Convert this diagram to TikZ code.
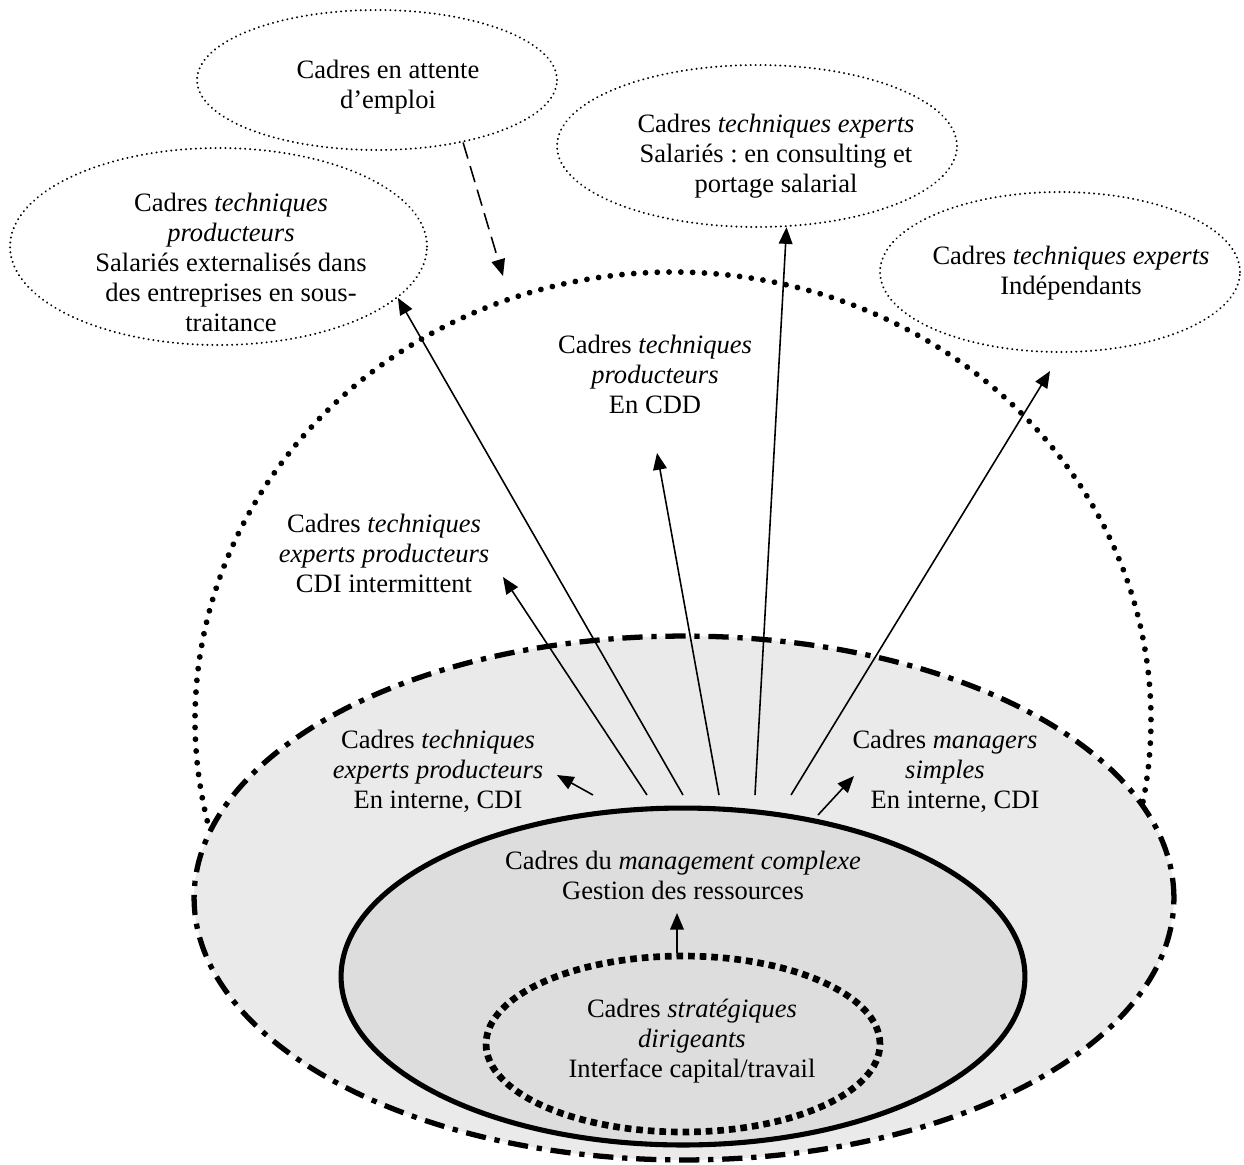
\documentclass[tikz,border=0pt]{standalone}
\usepackage{fontspec}
\setmainfont{Liberation Serif}
\usetikzlibrary{arrows.meta,shapes.geometric}
\definecolor{grayA}{RGB}{234,234,234}
\definecolor{grayB}{RGB}{221,221,221}
\frenchspacing
\begin{document}
\begin{tikzpicture}[x=0.02cm,y=-0.02cm,
  txt/.style={align=center, font=\fontsize{15.1}{17.07}\selectfont\frenchspacing, inner sep=0pt},
  oval/.style={ellipse, inner sep=0pt},
  thindot/.style={draw, line width=1.25pt, dash pattern=on 0.01pt off 2.8pt, line cap=round},
  bigdot/.style={line width=3.3pt, dash pattern=on 0.01pt off 6.7pt, line cap=round},
  dashdotline/.style={draw, line width=3pt, dash pattern=on 11.5pt off 5pt on 3pt off 5pt},
  solidline/.style={draw, line width=2.9pt},
  squaredot/.style={draw, line width=3.8pt, dash pattern=on 3.8pt off 2.8pt},
  arr/.style={line width=0.9pt, -{Triangle[length=9.5pt,width=7.8pt]}},
  dasharr/.style={arr, dash pattern=on 9.5pt off 4.5pt}]
\useasboundingbox (0,0) rectangle (1244,1164);

% large dotted arc (upper part of an ellipse)
\draw[bigdot] plot[domain=167:373, samples=120, smooth] ({673+478*cos(\x)},{720+448*sin(\x)});

% outer thin dotted ellipses
\node[oval, thindot, minimum width=7.2cm, minimum height=2.8cm] (attente) at (377,80) {};
\node[oval, thindot, minimum width=8.34cm, minimum height=3.94cm] (prod) at (218.5,246.5) {};
\node[oval, thindot, minimum width=8cm, minimum height=3.24cm] (cons) at (757,146) {};
\node[oval, thindot, minimum width=7.2cm, minimum height=3.2cm] (indep) at (1060,272) {};

% nested ellipses
\node[oval, dashdotline, fill=grayA, minimum width=19.6cm, minimum height=10.48cm] (grayE) at (684,898) {};
\node[oval, solidline, fill=grayB, minimum width=13.68cm, minimum height=6.74cm] (midE) at (683,976.5) {};
\node[oval, squaredot, minimum width=7.88cm, minimum height=3.52cm] (innerE) at (683,1044) {};

% connector end points
\coordinate (s1) at (593,795); \coordinate (t1) at (557,775);
\coordinate (s2) at (647,795); \coordinate (t2) at (503,577);
\coordinate (s3) at (683,795);
\coordinate (s4) at (719,795); \coordinate (t4) at (657,453);
\coordinate (s5) at (755,795);
\coordinate (s6) at (791,795); \coordinate (t6) at (1050,371);
\coordinate (s7) at (818,815); \coordinate (t7) at (854,776);
\coordinate (dT) at (503,276);
\coordinate (iS) at (677,953); \coordinate (iT) at (677,913);

\draw[arr] (s1) -- (t1);
\draw[arr] (s2) -- (t2);
\draw[arr] (s3) -- (prod.-16);
\draw[arr] (s4) -- (t4);
\draw[arr] (s5) -- (cons.-70);
\draw[arr] (s6) -- (t6);
\draw[arr] (s7) -- (t7);
\draw[dasharr] (attente.-36) -- (dT);
\draw[arr] (iS) -- (iT);

% texts
\node[txt] (attenteT) at (388,87) {Cadres en attente\\d’emploi};
\node[txt] (prodT) at (231,262) {Cadres \textit{techniques}\\\textit{producteurs}\\Salariés externalisés dans\\des entreprises en sous-\\traitance};
\node[txt] (consT) at (776,156) {Cadres \textit{techniques experts}\\Salariés : en consulting et\\portage salarial};
\node[txt] (indepT) at (1071,273) {Cadres \textit{techniques experts}\\Indépendants};
\node[txt] (cddT) at (655,374) {Cadres \textit{techniques}\\\textit{producteurs}\\En CDD};
\node[txt] (interT) at (384,553) {Cadres \textit{techniques}\\\textit{experts producteurs}\\CDI intermittent};
\node[txt] (interneT) at (438,771) {Cadres \textit{techniques}\\\textit{experts producteurs}\\En interne, CDI};
\node[txt] (managT) at (945,771) {Cadres \textit{managers}\\\textit{simples}\\\hspace*{0.4cm}En interne, CDI};
\node[txt] (mgmtT) at (683,875) {Cadres du \textit{management complexe}\\Gestion des ressources};
\node[txt] (stratT) at (692,1041) {Cadres \textit{stratégiques}\\\textit{dirigeants}\\Interface capital/travail};
\end{tikzpicture}
\end{document}
